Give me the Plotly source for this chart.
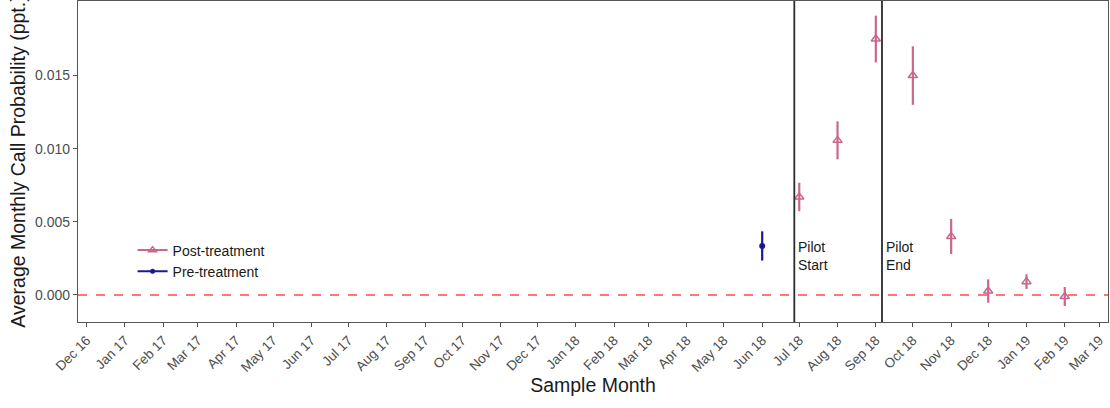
import plotly.graph_objects as go

# Monthly estimates with confidence half-widths
pre_months = ["2018-06-01"]
pre_values = [0.00335]
pre_err = [0.0010]

post_months = ["2018-07-01", "2018-08-01", "2018-09-01", "2018-10-01", "2018-11-01",
               "2018-12-01", "2019-01-01", "2019-02-01"]
post_values = [0.0067, 0.01057, 0.0175, 0.0150, 0.0040, 0.00027, 0.00091, -0.00011]
post_err = [0.00097, 0.0013, 0.0016, 0.0020, 0.0012, 0.0008, 0.0005, 0.00065]

pilot_dates = ["2018-06-27", "2018-09-06"]
pilot_labels = ["Pilot<br>Start", "Pilot<br>End"]

tick_dates = ["2016-12-01", "2017-01-01", "2017-02-01", "2017-03-01", "2017-04-01", "2017-05-01",
              "2017-06-01", "2017-07-01", "2017-08-01", "2017-09-01", "2017-10-01", "2017-11-01",
              "2017-12-01", "2018-01-01", "2018-02-01", "2018-03-01", "2018-04-01", "2018-05-01",
              "2018-06-01", "2018-07-01", "2018-08-01", "2018-09-01", "2018-10-01", "2018-11-01",
              "2018-12-01", "2019-01-01", "2019-02-01", "2019-03-01"]
tick_labels = ["Dec 16", "Jan 17", "Feb 17", "Mar 17", "Apr 17", "May 17", "Jun 17", "Jul 17",
               "Aug 17", "Sep 17", "Oct 17", "Nov 17", "Dec 17", "Jan 18", "Feb 18", "Mar 18",
               "Apr 18", "May 18", "Jun 18", "Jul 18", "Aug 18", "Sep 18", "Oct 18", "Nov 18",
               "Dec 18", "Jan 19", "Feb 19", "Mar 19"]

post_color = "#c9678d"
pre_color = "#1a1a8c"

fig = go.Figure()

fig.add_trace(go.Scatter(
    x=post_months, y=post_values, mode="markers", showlegend=False,
    marker=dict(symbol="triangle-up-open", size=8, color=post_color, line=dict(width=1.5)),
    error_y=dict(type="data", array=post_err, color=post_color, thickness=2.2, width=0),
))
fig.add_trace(go.Scatter(
    x=pre_months, y=pre_values, mode="markers", showlegend=False,
    marker=dict(symbol="circle", size=6, color=pre_color),
    error_y=dict(type="data", array=pre_err, color=pre_color, thickness=2.2, width=0),
))

# legend entries (line + marker key)
fig.add_trace(go.Scatter(
    x=[None], y=[None], mode="lines+markers", name="Post-treatment",
    line=dict(color=post_color, width=2),
    marker=dict(symbol="triangle-up-open", size=7, color=post_color, line=dict(width=1.5)),
))
fig.add_trace(go.Scatter(
    x=[None], y=[None], mode="lines+markers", name="Pre-treatment",
    line=dict(color=pre_color, width=2),
    marker=dict(symbol="circle", size=5, color=pre_color),
))

# zero reference line
fig.add_hline(y=0, line=dict(color="#ff4a4a", width=1.5, dash="dash"), layer="below")

for d, lab in zip(pilot_dates, pilot_labels):
    fig.add_shape(type="line", x0=d, x1=d, xref="x", y0=0, y1=1, yref="paper",
                  line=dict(color="#2b2b2b", width=1.8))
    fig.add_annotation(x=d, y=0.00265, xref="x", yref="y", text=lab, showarrow=False,
                       xanchor="left", yanchor="middle", align="left", xshift=2,
                       font=dict(size=14, color="#1a1a1a"))

fig.update_layout(
    width=1110, height=408,
    margin=dict(l=78, r=2, t=1, b=86),
    paper_bgcolor="white", plot_bgcolor="white",
    font=dict(family="Liberation Sans, Arial, sans-serif", color="#4d4d4d"),
    showlegend=True,
    legend=dict(x=0.053, y=0.19, xanchor="left", yanchor="middle", bgcolor="rgba(0,0,0,0)",
                font=dict(size=14, color="#1a1a1a"), itemwidth=30, tracegroupgap=0),
)

fig.update_xaxes(
    type="date", range=["2016-11-24", "2019-03-08"],
    tickmode="array", tickvals=tick_dates, ticktext=tick_labels, tickangle=-45,
    tickfont=dict(size=13.5, color="#4d4d4d"),
    ticks="outside", ticklen=4, tickcolor="#555", tickwidth=1.3,
    showgrid=False, zeroline=False,
    showline=True, linecolor="#555", linewidth=1.3, mirror=True,
    title=dict(text="Sample Month", font=dict(size=19.5, color="#1a1a1a"), standoff=4),
)
fig.update_yaxes(
    range=[-0.00185, 0.0201],
    tickvals=[0.0, 0.005, 0.010, 0.015], ticktext=["0.000", "0.005", "0.010", "0.015"],
    tickfont=dict(size=14, color="#4d4d4d"),
    ticks="outside", ticklen=4, tickcolor="#555", tickwidth=1.3,
    showgrid=False, zeroline=False,
    showline=True, linecolor="#555", linewidth=1.3, mirror=True,
    title=dict(text="Average Monthly Call Probability (ppt.)", font=dict(size=19.5, color="#1a1a1a"),
               standoff=4),
)

fig.write_html("out.html")
